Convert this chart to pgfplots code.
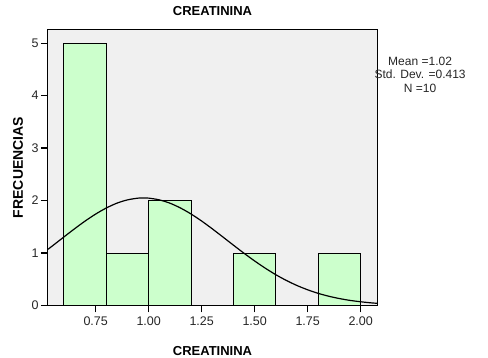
\documentclass[border=0pt]{standalone}
\usepackage{pgfplots}
\pgfplotsset{compat=1.18}
\usepackage{fontspec}
\setmainfont{Liberation Sans}
\definecolor{bg}{HTML}{F0F0F0}
\definecolor{barfill}{HTML}{CCFFCC}
\begin{document}
\begin{tikzpicture}
\useasboundingbox (-48pt,-52.3pt) rectangle (440pt,305.5pt);
\begin{axis}[
  at={(0,0)}, anchor=south west,
  scale only axis, width=329pt, height=276pt,
  xmin=0.525, xmax=2.077, ymin=0, ymax=5.26,
  axis background/.style={fill=bg},
  axis line style={line width=1pt, black},
  xtick={0.75,1.00,1.25,1.50,1.75,2.00},
  ytick={0,1,2,3,4,5},
  xtick pos=left, ytick pos=left,
  tick align=outside,
  major tick length=7pt,
  tick style={line width=1.2pt, black},
  xticklabel style={/pgf/number format/fixed, /pgf/number format/fixed zerofill, /pgf/number format/precision=2, yshift=-0.5pt},
  /pgf/number format/assume math mode=true,
  ticklabel style={font=\fontsize{12.5}{14}\selectfont, text=black!85},
  yticklabel style={xshift=1pt},
  title={\textbf{CREATININA}},
  title style={at={(axis description cs:0.5,1.045)}, anchor=center, font=\fontsize{13}{15}\selectfont},
  xlabel={\textbf{CREATININA}},
  xlabel style={at={(axis description cs:0.5,-0.1667)}, anchor=center, font=\fontsize{13}{15}\selectfont},
  ylabel={\textbf{FRECUENCIAS}},
  ylabel style={at={(axis description cs:-0.0912,0.5)}, anchor=center, font=\fontsize{14}{16}\selectfont},
  clip=false,
]
\addplot[ybar interval, fill=barfill, draw=black, line width=0.9pt] coordinates {
  (0.6,5) (0.8,1) (1.0,2) (1.2,0) (1.4,1) (1.6,0) (1.8,1) (2.0,1)
};
\addplot[black, line width=1.2pt, smooth] coordinates {
  (0.525,1.071) (0.55,1.149) (0.60,1.306) (0.65,1.461) (0.70,1.609)
  (0.75,1.743) (0.80,1.858) (0.85,1.950) (0.90,2.013) (0.95,2.046)
  (0.975,2.050) (1.00,2.046) (1.05,2.013) (1.10,1.950) (1.15,1.858)
  (1.20,1.743) (1.25,1.609) (1.30,1.461) (1.35,1.306) (1.40,1.149)
  (1.45,0.995) (1.50,0.848) (1.55,0.711) (1.60,0.586) (1.65,0.476)
  (1.70,0.380) (1.75,0.299) (1.80,0.231) (1.85,0.176) (1.90,0.132)
  (1.95,0.097) (2.00,0.071) (2.05,0.050) (2.077,0.042)
};
\node[align=center, font=\fontsize{12}{13.3}\selectfont, text=black!85, inner sep=0pt]
  at (axis description cs:1.131,0.836) {Mean =1.02\\Std. Dev. =0.413\\N =10};
\end{axis}
\end{tikzpicture}
\end{document}
